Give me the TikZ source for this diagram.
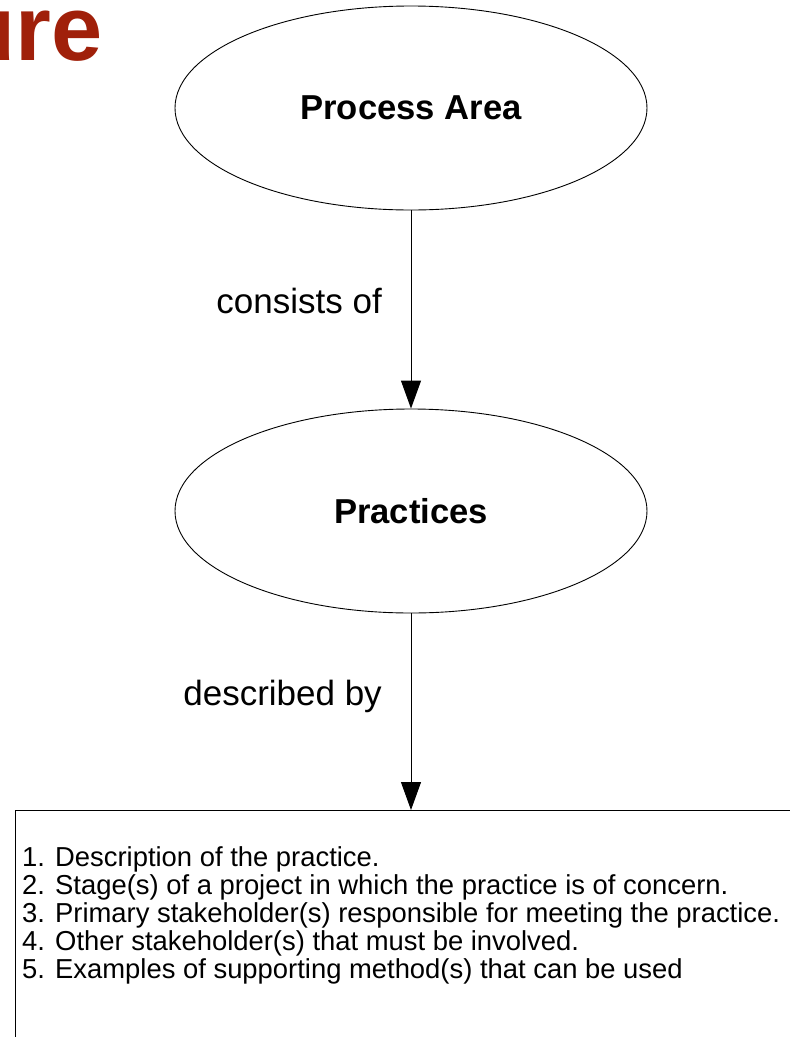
\documentclass[tikz,border=0pt]{standalone}
\usepackage{fontspec}
\setmainfont{Liberation Sans}
\usetikzlibrary{shapes.geometric,arrows.meta}
\definecolor{titlered}{RGB}{160,32,10}
\tikzset{
  ell/.style={draw=black, line width=0.9pt, ellipse, minimum width=472pt, minimum height=204pt, inner sep=0pt, font=\fontsize{34.6}{40}\selectfont\bfseries},
  conn/.style={draw=black, line width=1pt, -{Triangle[length=28pt,width=20pt]}},
  lbl/.style={anchor=base east, inner sep=0pt, font=\fontsize{35}{40}\selectfont},
  listbox/.style={draw=black, line width=1pt, anchor=north west, minimum width=800pt, minimum height=300pt, inner sep=0pt},
  item/.style={anchor=base west, inner sep=0pt, font=\fontsize{27.4}{30}\selectfont},
}
\begin{document}
\begin{tikzpicture}[x=1pt,y=-1pt]
\useasboundingbox (0,0) rectangle (790,1037);
\fill[white] (0,0) rectangle (790,1037);
\node[anchor=base east, inner sep=0pt, text=titlered, font=\fontsize{92}{100}\selectfont\bfseries] (title) at (103,60) {ure};
\node[ell] (pa) at (411,108) {Process Area};
\node[ell] (pr) at (411,511) {Practices};
\node[listbox] (box) at (15,810) {};
\draw[conn] (pa.south) -- (pr.north);
\draw[conn] (pr.south) -- (pr.south |- box.north);
\node[lbl] (l1) at (382,313) {consists of};
\node[lbl] (l2) at (382,705) {described by};
\node[item] (i1) at (22,866) {1. Description of the practice.};
\node[item] (i2) at (22,894) {2. Stage(s) of a project in which the practice is of concern.};
\node[item] (i3) at (22,922) {3. Primary stakeholder(s) responsible for meeting the practice.};
\node[item] (i4) at (22,950) {4. Other stakeholder(s) that must be involved.};
\node[item] (i5) at (22,978) {5. Examples of supporting method(s) that can be used};
\end{tikzpicture}
\end{document}
